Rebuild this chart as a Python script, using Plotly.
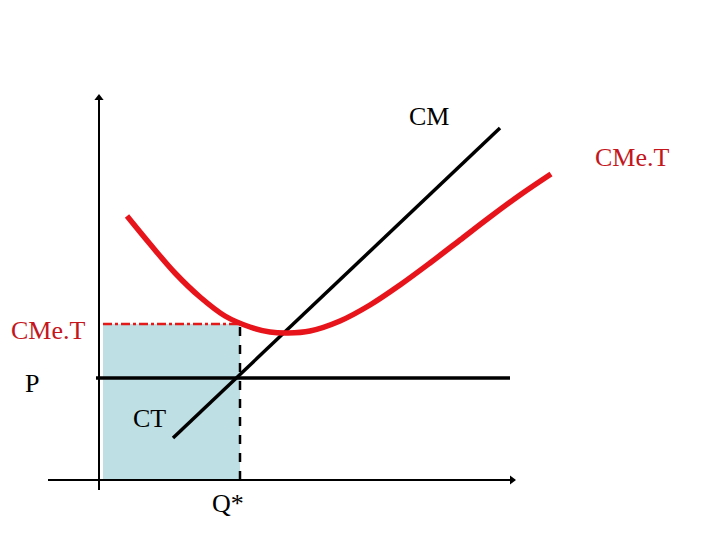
import plotly.graph_objects as go

H = 540
# Schematic coordinates (x to the right, y upward), in diagram units
# Average total cost curve (CMe.T)
cmet_x = [127, 150, 175, 200, 225, 250, 270, 288, 310, 340, 370, 400, 430, 460, 490, 520, 551]
cmet_pix = [216, 244, 273, 297, 316, 327, 332, 333, 331, 321, 305, 285, 263, 240, 217, 195, 174]
cmet_y = [H - v for v in cmet_pix]

# Marginal cost line (CM)
cm_x = [173, 500]
cm_y = [H - 438, H - 128]

# Price line (P)
p_x = [96, 510]
p_level = H - 378

# Optimal quantity and average cost at Q*
q_star = 240
cmet_level = H - 324
axis_origin_y = H - 480
rect_x0 = 103

# Axes
yaxis_x = [99, 99]
yaxis_y = [H - 490, H - 100]
xaxis_x = [48, 510]
xaxis_y = [H - 480, H - 480]

# text, x, y, colour, anchor
labels = [
    ("CM", 407, H - 116, "black", "left"),
    ("CMe.T", 593, H - 157, "#C4161C", "left"),
    ("CMe.T", 9, H - 330, "#C4161C", "left"),
    ("P", 23, H - 383, "black", "left"),
    ("CT", 131, H - 418, "black", "left"),
    ("Q*", 210, H - 503, "black", "left"),
]

FONT = "Liberation Serif"

fig = go.Figure()

# shaded rectangle (total cost)
fig.add_trace(go.Scatter(
    x=[rect_x0, q_star, q_star, rect_x0, rect_x0],
    y=[axis_origin_y, axis_origin_y, cmet_level, cmet_level, axis_origin_y],
    fill="toself", fillcolor="#BEDFE3", line=dict(width=0), mode="lines",
    hoverinfo="skip", showlegend=False))

# dashed vertical at Q*
fig.add_trace(go.Scatter(x=[q_star, q_star], y=[axis_origin_y, cmet_level], mode="lines",
                         line=dict(color="black", width=2.5, dash="dash"), showlegend=False))
# dash-dot top at CMe.T level
fig.add_trace(go.Scatter(x=[rect_x0, q_star], y=[cmet_level, cmet_level], mode="lines",
                         line=dict(color="#E21A1A", width=2.5, dash="dashdot"), showlegend=False))

# axes
fig.add_trace(go.Scatter(x=yaxis_x, y=yaxis_y, mode="lines",
                         line=dict(color="black", width=2), showlegend=False))
fig.add_trace(go.Scatter(x=xaxis_x, y=xaxis_y, mode="lines",
                         line=dict(color="black", width=2), showlegend=False))
fig.add_trace(go.Scatter(x=[yaxis_x[1]], y=[yaxis_y[1] + 2], mode="markers",
                         marker=dict(symbol="triangle-up", size=8, color="black"), showlegend=False))
fig.add_trace(go.Scatter(x=[xaxis_x[1] + 2], y=[xaxis_y[1]], mode="markers",
                         marker=dict(symbol="triangle-right", size=8, color="black"), showlegend=False))

# price line
fig.add_trace(go.Scatter(x=p_x, y=[p_level, p_level], mode="lines",
                         line=dict(color="black", width=3.5), showlegend=False))
# CM line
fig.add_trace(go.Scatter(x=cm_x, y=cm_y, mode="lines",
                         line=dict(color="black", width=3.5), showlegend=False))
# CMe.T curve
fig.add_trace(go.Scatter(x=cmet_x, y=cmet_y, mode="lines", line_shape="spline",
                         line=dict(color="#E8141B", width=5.5), showlegend=False))

for txt, x, y, c, anc in labels:
    fig.add_annotation(x=x, y=y, text=txt, showarrow=False, xanchor=anc,
                       font=dict(family=FONT, size=26, color=c))

# page body has an 8px margin, so the figure is 712x532 and the ranges start at 8
fig.update_layout(
    width=712, height=532,
    margin=dict(l=0, r=0, t=0, b=0),
    plot_bgcolor="white", paper_bgcolor="white",
    xaxis=dict(range=[8, 720], visible=False, fixedrange=True),
    yaxis=dict(range=[0, 532], visible=False, fixedrange=True),
)

fig.write_html("out.html")
